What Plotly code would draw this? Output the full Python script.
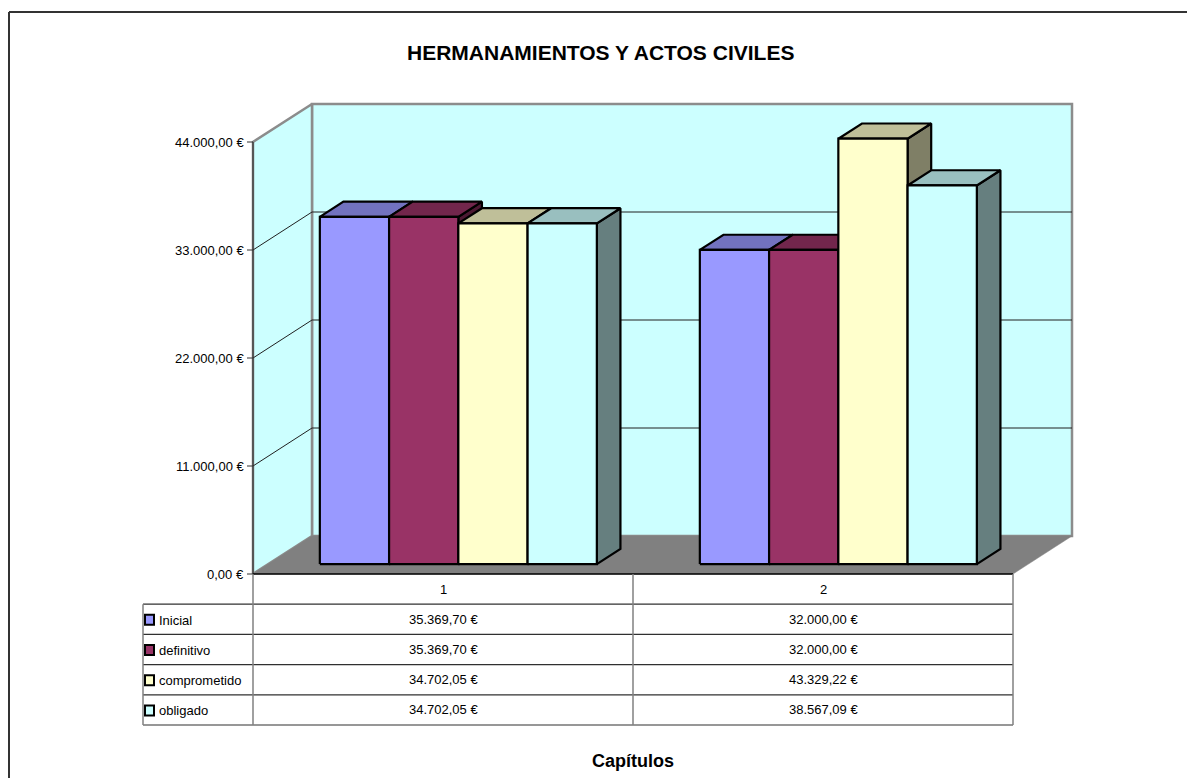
import plotly.graph_objects as go

# ---------------- data ----------------
title = "HERMANAMIENTOS Y ACTOS CIVILES"
x_title = "Capítulos"
categories = ["1", "2"]
series_names = ["Inicial", "definitivo", "comprometido", "obligado"]
inicial = [35369.70, 32000.00]
definitivo = [35369.70, 32000.00]
comprometido = [34702.05, 43329.22]
obligado = [34702.05, 38567.09]
y_ticks = [0, 11000, 22000, 33000, 44000]

series_values = [inicial, definitivo, comprometido, obligado]
front_colors = ["#9999FF", "#993366", "#FFFFCC", "#CCFFFF"]

# ---------------- layout geometry (screen pixels) ----------------
W, H = 1195, 778
OFF = 8  # page body margin
AX_L_PX, AX_R_PX = 253, 1013
Y0_PX, YTOP_PX = 574, 142
DEPTH_DX_PX, DEPTH_DY_PX = 59, 38
GROUP_W_PX = 277
BAR_D_FRONT, BAR_D_BACK = 0.26, 0.66
LEG_L_PX = 143
HEADER_TOP, ROW_H = 574, 30.2
FONT = "Liberation Sans, Arial, sans-serif"
FS = 13

ncat = len(categories)
kx = (AX_R_PX - AX_L_PX) / ncat          # px per category unit
ymax = y_ticks[-1]
ky = (Y0_PX - YTOP_PX) / ymax            # px per euro
x_range = [0.5 - (AX_L_PX - OFF) / kx, 0.5 + (W - (AX_L_PX - OFF)) / kx]
y_range = [-(H - (Y0_PX - OFF)) / ky, (Y0_PX - OFF) / ky]
DX = DEPTH_DX_PX / kx
DY = DEPTH_DY_PX / ky
x_left, x_right = 0.5, ncat + 0.5


def P(x, y, d):
    return x + d * DX, y + d * DY


def shade(hexcol, f):
    h = hexcol.lstrip("#")
    r, g, b = (int(h[i:i + 2], 16) for i in (0, 2, 4))
    return "#%02X%02X%02X" % (int(r * f), int(g * f), int(b * f))


def eur(v):
    s = f"{v:,.2f}"
    return s.replace(",", "X").replace(".", ",").replace("X", ".") + " €"


def yp(px):
    return 1 - (px - OFF) / H


def xp(px):
    return (px - OFF) / W


fig = go.Figure()


def poly(pts, fill, line_color, line_width):
    xs = [p[0] for p in pts] + [pts[0][0]]
    ys = [p[1] for p in pts] + [pts[0][1]]
    fig.add_trace(go.Scatter(
        x=xs, y=ys, mode="lines", fill="toself", fillcolor=fill,
        line=dict(color=line_color, width=line_width),
        hoverinfo="skip", showlegend=False))


def line(pts, color, width):
    fig.add_trace(go.Scatter(
        x=[p[0] for p in pts], y=[p[1] for p in pts], mode="lines",
        line=dict(color=color, width=width),
        hoverinfo="skip", showlegend=False))


WALL = "#CCFFFF"
EDGE = "#8C8C8C"

# back wall
poly([P(x_left, 0, 1), P(x_right, 0, 1), P(x_right, ymax, 1), P(x_left, ymax, 1)],
     WALL, EDGE, 2.5)
# left wall
poly([P(x_left, 0, 0), P(x_left, ymax, 0), P(x_left, ymax, 1), P(x_left, 0, 1)],
     WALL, EDGE, 2.5)
# floor
poly([P(x_left, 0, 0), P(x_right, 0, 0), P(x_right, 0, 1), P(x_left, 0, 1)],
     "#808080", "#808080", 0.5)

# gridlines
for v in y_ticks[1:-1]:
    line([P(x_left, v, 0), P(x_left, v, 1), P(x_right, v, 1)], "#202020", 1)

# front value axis & ticks
line([P(x_left, 0, 0), P(x_left, ymax, 0)], "#333333", 1.2)
for v in y_ticks:
    line([(x_left - 6 / kx, v), (x_left, v)], "#333333", 1)
# floor front edge
line([P(x_left, 0, 0), P(x_right, 0, 0)], "#000000", 1.5)

# bars
gw = GROUP_W_PX / kx
bw = gw / len(series_names)
for ci in range(ncat):
    cx = ci + 1
    for si, vals in enumerate(series_values):
        v = vals[ci]
        col = front_colors[si]
        xl = cx - gw / 2 + si * bw
        xr = xl + bw
        f, b = BAR_D_FRONT, BAR_D_BACK
        poly([P(xr, 0, f), P(xr, 0, b), P(xr, v, b), P(xr, v, f)],
             shade(col, 0.5), "#000000", 2.2)
        poly([P(xl, v, f), P(xr, v, f), P(xr, v, b), P(xl, v, b)],
             shade(col, 0.75), "#000000", 2.2)
        poly([P(xl, 0, f), P(xr, 0, f), P(xr, v, f), P(xl, v, f)],
             col, "#000000", 2.2)

annotations = []
shapes = []

# title
annotations.append(dict(text=f"<b>{title}</b>", x=xp(600), y=yp(52), xref="paper", yref="paper",
                        showarrow=False, font=dict(family=FONT, size=21, color="black"),
                        xanchor="center", yanchor="middle"))
annotations.append(dict(text=f"<b>{x_title}</b>", x=xp(633), y=yp(761), xref="paper", yref="paper",
                        showarrow=False, font=dict(family=FONT, size=18, color="black"),
                        xanchor="center", yanchor="middle"))

# tick labels
for v in y_ticks:
    annotations.append(dict(text=eur(v), x=x_left, y=v, xref="x", yref="y", showarrow=False,
                            xanchor="right", yanchor="middle", xshift=-7,
                            font=dict(family=FONT, size=FS, color="black")))

# data table
row_tops = [HEADER_TOP + ROW_H * i for i in range(len(series_names) + 2)]
x_leg = x_left - (AX_L_PX - LEG_L_PX) / kx
for i, yt in enumerate(row_tops[1:]):
    shapes.append(dict(type="line", xref="x", yref="paper", x0=x_leg, x1=x_right,
                       y0=yp(yt), y1=yp(yt), line=dict(color="#303030", width=1.2)))
for xv in [x_left + k for k in range(ncat + 1)]:
    shapes.append(dict(type="line", xref="x", yref="paper", x0=xv, x1=xv,
                       y0=yp(row_tops[0]), y1=yp(row_tops[-1]),
                       line=dict(color="#808080", width=1.5)))
shapes.append(dict(type="line", xref="x", yref="paper", x0=x_leg, x1=x_leg,
                   y0=yp(row_tops[1]), y1=yp(row_tops[-1]),
                   line=dict(color="#808080", width=1.5)))

for ci, c in enumerate(categories):
    annotations.append(dict(text=c, x=ci + 1, y=yp((row_tops[0] + row_tops[1]) / 2),
                            xref="x", yref="paper", showarrow=False,
                            xanchor="center", yanchor="middle",
                            font=dict(family=FONT, size=FS, color="black")))
for si, name in enumerate(series_names):
    yc = (row_tops[si + 1] + row_tops[si + 2]) / 2
    annotations.append(dict(text=name, x=xp(157), y=yp(yc + 1), xref="paper", yref="paper",
                            showarrow=False, xanchor="left", yanchor="middle",
                            font=dict(family=FONT, size=FS, color="black")))
    shapes.append(dict(type="rect", xref="paper", yref="paper",
                       x0=xp(145), x1=xp(154), y0=yp(yc - 4.5), y1=yp(yc + 5.5),
                       fillcolor=front_colors[si], line=dict(color="black", width=2)))
    for ci in range(ncat):
        annotations.append(dict(text=eur(series_values[si][ci]), x=ci + 1, y=yp(yc),
                                xref="x", yref="paper", showarrow=False,
                                xanchor="center", yanchor="middle",
                                font=dict(family=FONT, size=FS, color="black")))

# outer border (only top and left edges visible in the frame)
shapes.append(dict(type="line", xref="paper", yref="paper", x0=xp(9), x1=1.0,
                   y0=yp(12), y1=yp(12), line=dict(color="#333333", width=2)))
shapes.append(dict(type="line", xref="paper", yref="paper", x0=xp(9), x1=xp(9),
                   y0=0.0, y1=yp(12), line=dict(color="#333333", width=2)))

fig.update_layout(
    width=W, height=H, margin=dict(l=0, r=0, t=0, b=0, autoexpand=False),
    paper_bgcolor="white", plot_bgcolor="white",
    xaxis=dict(range=x_range, visible=False, fixedrange=True),
    yaxis=dict(range=y_range, visible=False, fixedrange=True),
    annotations=annotations, shapes=shapes, showlegend=False,
)

fig.write_html("out.html")
